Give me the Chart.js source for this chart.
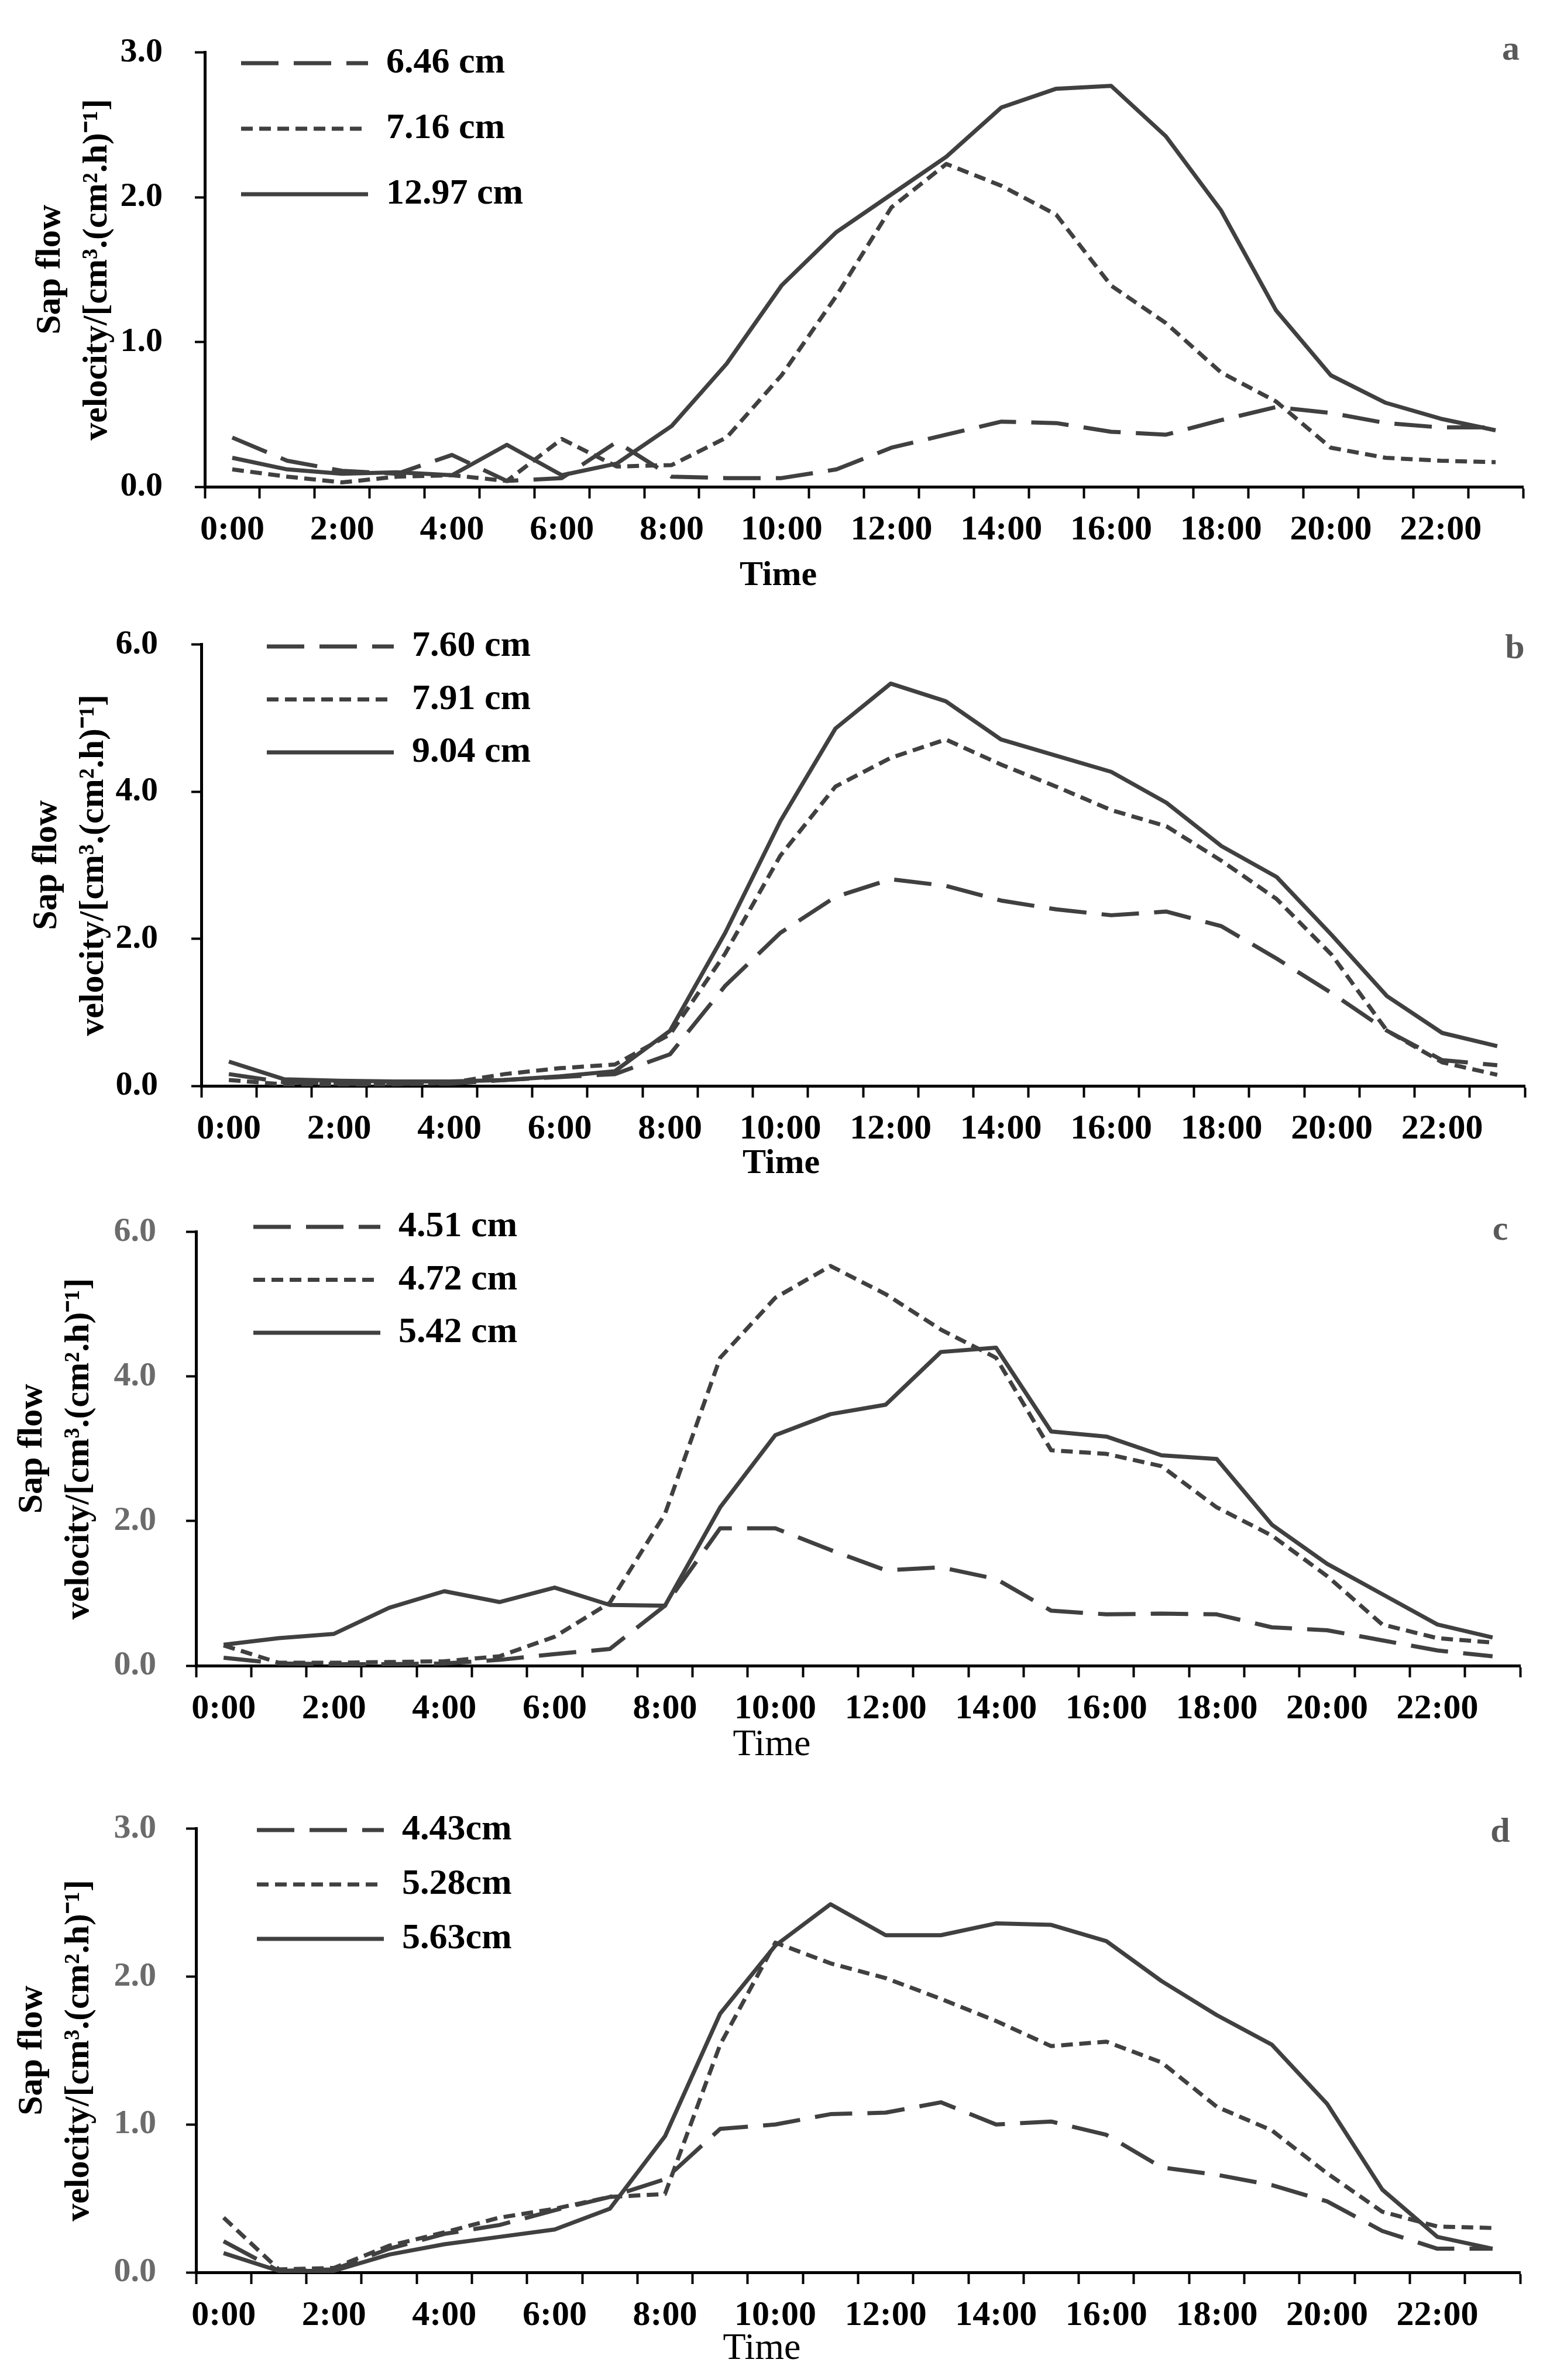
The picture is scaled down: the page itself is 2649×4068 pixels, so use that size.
<!DOCTYPE html>
<html>
<head>
<meta charset="utf-8">
<script src="https://cdn.jsdelivr.net/npm/chart.js@4.4.1/dist/chart.umd.min.js"></script>
<style>
html,body{margin:0;padding:0;background:#fff;}
body{width:2649px;height:4068px;position:relative;overflow:hidden;}
canvas{position:absolute;left:0;}
</style>
</head>
<body>
<canvas id="ca"></canvas>
<canvas id="cb"></canvas>
<canvas id="cc"></canvas>
<canvas id="cd"></canvas>
<script>
// ---------- data ----------
const hours = ['0:00','1:00','2:00','3:00','4:00','5:00','6:00','7:00','8:00','9:00','10:00','11:00',
               '12:00','13:00','14:00','15:00','16:00','17:00','18:00','19:00','20:00','21:00','22:00','23:00'];
const shownTicks = ['0:00','','2:00','','4:00','','6:00','','8:00','','10:00','',
                    '12:00','','14:00','','16:00','','18:00','','20:00','','22:00',''];

const labelsA = ['6.46 cm','7.16 cm','12.97 cm'];
const a646  = [0.34,0.18,0.11,0.09,0.22,0.04,0.06,0.31,0.07,0.06,0.06,0.12,0.27,0.36,0.45,0.44,0.38,0.36,0.46,0.55,0.51,0.44,0.41,0.41];
const a716  = [0.12,0.07,0.03,0.07,0.08,0.04,0.33,0.14,0.15,0.34,0.77,1.32,1.93,2.23,2.08,1.88,1.39,1.13,0.79,0.59,0.27,0.20,0.18,0.17];
const a1297 = [0.20,0.12,0.09,0.10,0.08,0.29,0.08,0.16,0.42,0.85,1.39,1.76,2.02,2.28,2.62,2.75,2.77,2.42,1.91,1.22,0.77,0.58,0.47,0.39];

const labelsB = ['7.60 cm','7.91 cm','9.04 cm'];
const b760 = [0.16,0.05,0.03,0.03,0.03,0.08,0.12,0.16,0.43,1.36,2.08,2.57,2.81,2.72,2.52,2.40,2.32,2.37,2.17,1.73,1.26,0.75,0.35,0.28];
const b791 = [0.08,0.02,0.02,0.02,0.04,0.16,0.24,0.29,0.70,1.80,3.13,4.07,4.46,4.71,4.37,4.07,3.75,3.53,3.06,2.54,1.78,0.75,0.32,0.15];
const b904 = [0.33,0.09,0.07,0.06,0.06,0.08,0.13,0.20,0.75,2.08,3.60,4.86,5.47,5.23,4.71,4.49,4.27,3.85,3.26,2.84,2.05,1.22,0.72,0.54];

const labelsC = ['4.51 cm','4.72 cm','5.42 cm'];
const c451 = [0.11,0.03,0.02,0.02,0.03,0.08,0.16,0.23,0.83,1.90,1.90,1.60,1.32,1.36,1.20,0.76,0.71,0.72,0.71,0.53,0.49,0.35,0.21,0.13];
const c472 = [0.28,0.04,0.04,0.05,0.06,0.13,0.40,0.87,2.10,4.26,5.09,5.53,5.14,4.65,4.26,2.98,2.93,2.76,2.19,1.80,1.24,0.57,0.38,0.32];
const c542 = [0.29,0.38,0.44,0.80,1.03,0.88,1.08,0.84,0.83,2.19,3.19,3.48,3.61,4.34,4.40,3.24,3.17,2.91,2.86,1.95,1.41,0.99,0.57,0.39];

const labelsD = ['4.43cm','5.28cm','5.63cm'];
const d443 = [0.21,0.01,0.02,0.16,0.26,0.32,0.42,0.51,0.63,0.97,1.00,1.07,1.08,1.15,1.00,1.02,0.93,0.71,0.66,0.59,0.48,0.28,0.16,0.16];
const d528 = [0.37,0.02,0.03,0.18,0.27,0.37,0.43,0.51,0.53,1.54,2.23,2.09,1.99,1.85,1.70,1.53,1.56,1.42,1.12,0.96,0.67,0.41,0.31,0.30];
const d563 = [0.13,0.01,0.01,0.12,0.19,0.24,0.29,0.43,0.92,1.75,2.21,2.49,2.28,2.28,2.36,2.35,2.24,1.97,1.74,1.54,1.14,0.56,0.24,0.16];

const yTitle = ['Sap flow', 'velocity/[cm\u00B3.(cm\u00B2.h)\u207B\u00B9]'];

// ---------- styles / layout ----------
const FONT = "'Liberation Serif', 'Times New Roman', serif";
const LINE = '#404040';
const dashes = [[64, 26], [20, 11], []];

const panels = [
  {id:'ca', top:0,    height:1010, left:350, right:2603, ptop:55, pbottom:832, yMax:3, yStep:1,
   tickColor:'#000', yPad:55, titlePad:46, lg:{x:412, row:108, pad:50},
   letter:'a', letterX:2582, letterY:102, timeX:1330, timeY:1000, timeFont:'bold 60px '+FONT,
   labels:labelsA, series:[a646, a716, a1297]},
  {id:'cb', top:1010, height:1010, left:344, right:2606, ptop:66, pbottom:846, yMax:6, yStep:2,
   tickColor:'#000', yPad:57, titlePad:40, lg:{x:456, row:95, pad:28.5},
   letter:'b', letterX:2589, letterY:115, timeX:1335, timeY:995, timeFont:'bold 60px '+FONT,
   labels:labelsB, series:[b760, b791, b904]},
  {id:'cc', top:2020, height:1020, left:335, right:2598, ptop:47, pbottom:827, yMax:6, yStep:2,
   tickColor:'#6b6b6b', yPad:51, titlePad:15, lg:{x:433, row:77, pad:28.5},
   letter:'c', letterX:2564, letterY:99, timeX:1319, timeY:980, timeFont:'64px '+FONT,
   labels:labelsC, series:[c451, c472, c542]},
  {id:'cd', top:3040, height:1028, left:335, right:2598, ptop:59, pbottom:844, yMax:3, yStep:1,
   tickColor:'#6b6b6b', yPad:51, titlePad:15, lg:{x:439, row:88, pad:31},
   letter:'d', letterX:2564, letterY:108, timeX:1302, timeY:992, timeFont:'64px '+FONT,
   labels:labelsD, series:[d443, d528, d563]}
];

const placeLegend = {
  id: 'placeLegend',
  afterLayout(chart, args, o) {
    const lg = chart.legend;
    if (!lg || !o || o.x === undefined) return;
    lg.left = o.x; lg.top = o.y;
    lg.right = o.x + 900; lg.bottom = o.y + 500;
  }
};

const panelText = {
  id: 'panelText',
  afterDraw(chart, args, o) {
    const ctx = chart.ctx;
    ctx.save();
    ctx.textAlign = 'center';
    ctx.textBaseline = 'alphabetic';
    ctx.fillStyle = '#000';
    ctx.font = o.timeFont;
    ctx.fillText('Time', o.timeX, o.timeY);
    ctx.fillStyle = '#595959';
    ctx.font = 'bold 60px ' + FONT;
    ctx.fillText(o.letter, o.letterX, o.letterY);
    ctx.restore();
  }
};

Chart.defaults.font.family = FONT;

panels.forEach(P => {
  const cv = document.getElementById(P.id);
  cv.width = 2649; cv.height = P.height;
  cv.style.width = '2649px'; cv.style.height = P.height + 'px';
  cv.style.top = P.top + 'px';
  const LF = 62;
  const lgPad = P.lg.pad;
  new Chart(cv, {
    type: 'line',
    data: {
      labels: hours,
      datasets: P.series.map((s, i) => ({
        label: P.labels[i],
        data: s,
        borderColor: LINE,
        backgroundColor: LINE,
        borderWidth: 7,
        borderDash: dashes[i],
        borderCapStyle: 'butt',
        borderJoinStyle: 'round',
        pointRadius: 0,
        pointHoverRadius: 0,
        tension: 0,
        fill: false,
        clip: false
      }))
    },
    options: {
      responsive: false,
      animation: false,
      devicePixelRatio: 1,
      events: [],
      layout: { padding: { left: 0, top: P.ptop, right: 2649 - P.right, bottom: 0 } },
      scales: {
        x: {
          type: 'category',
          offset: true,
          afterFit(scale) { scale.height = P.height - P.pbottom; },
          grid: { display: true, offset: true, drawOnChartArea: false, drawTicks: true,
                  tickLength: 20, tickWidth: 4, tickColor: '#000' },
          border: { display: true, color: '#000', width: 5 },
          ticks: { autoSkip: false, maxRotation: 0, minRotation: 0, padding: 18, color: '#000',
                   font: { size: 60, weight: 'bold' },
                   callback: (v, i) => shownTicks[i] }
        },
        y: {
          min: 0, max: P.yMax,
          afterFit(scale) { scale.width = P.left; },
          grid: { display: true, drawOnChartArea: false, drawTicks: true,
                  tickLength: 17, tickWidth: 4, tickColor: '#000' },
          border: { display: true, color: '#000', width: 5 },
          ticks: { stepSize: P.yStep, padding: P.yPad, color: P.tickColor,
                   font: { size: 58, weight: 'bold' },
                   callback: v => Number(v).toFixed(1) },
          title: { display: true, text: yTitle, color: '#000',
                   font: { size: 60, weight: 'bold', lineHeight: 80 / 60 },
                   padding: { top: P.titlePad, bottom: 0 } }
        }
      },
      plugins: {
        tooltip: { enabled: false },
        legend: {
          display: true,
          position: 'chartArea',
          align: 'start',
          labels: {
            usePointStyle: true,
            pointStyle: 'line',
            pointStyleWidth: 217,
            boxWidth: 217,
            boxHeight: LF,
            padding: lgPad,
            color: '#000',
            font: { size: LF, weight: 'bold' },
            generateLabels: chart => chart.data.datasets.map((ds, i) => ({
              text: ds.label,
              fillStyle: 'rgba(0,0,0,0)',
              strokeStyle: ds.borderColor,
              lineWidth: ds.borderWidth,
              lineDash: ds.borderDash,
              lineCap: 'butt',
              pointStyle: 'line',
              fontColor: '#000',
              hidden: false,
              datasetIndex: i
            }))
          }
        },
        placeLegend: { x: P.lg.x - lgPad, y: P.lg.row - LF / 2 - lgPad },
        panelText: { timeFont: P.timeFont, timeX: P.timeX, timeY: P.timeY,
                     letter: P.letter, letterX: P.letterX, letterY: P.letterY }
      }
    },
    plugins: [placeLegend, panelText]
  });
});
</script>
</body>
</html>
